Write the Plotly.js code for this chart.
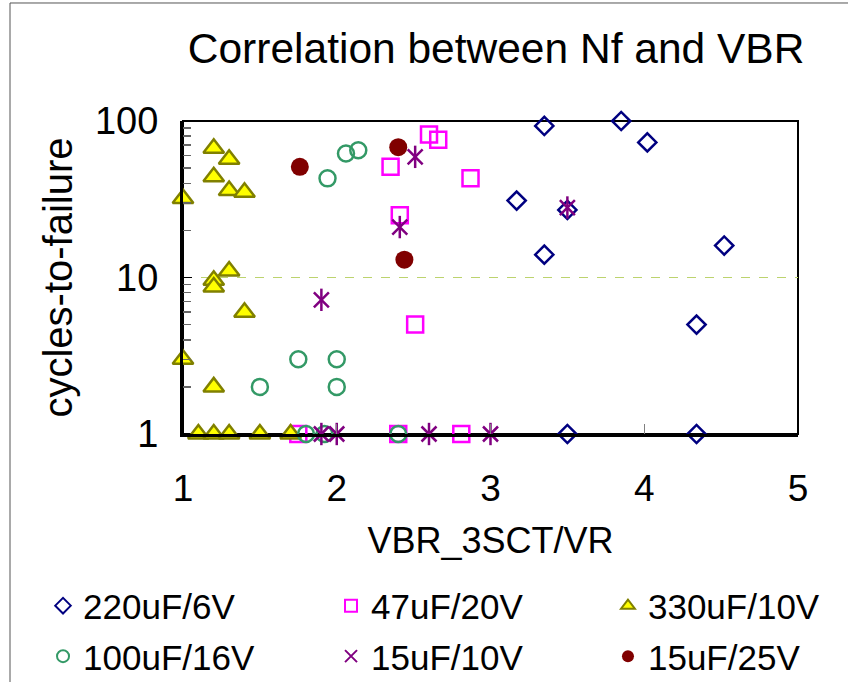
<!DOCTYPE html>
<html>
<head>
<meta charset="utf-8">
<script src="https://cdn.plot.ly/plotly-3.0.1.min.js"></script>
<style>html,body{margin:0;padding:0;background:#fff;}#chart{width:848px;height:682px;}</style>
</head>
<body>
<div id="chart"></div>
<script>
// Series names
var seriesNames = ["220uF/6V", "47uF/20V", "330uF/10V", "100uF/16V", "15uF/10V", "15uF/25V"];

// 220uF/6V
var x220 = [3.35, 3.85, 4.02, 3.17, 3.5, 3.35, 4.52, 4.34, 3.5, 4.34];
var y220 = [93, 100, 73, 31, 27, 14, 16, 5, 1, 1];
// 47uF/20V
var x47 = [2.6, 2.66, 2.35, 2.87, 2.41, 2.51, 1.75, 2.4, 2.81];
var y47 = [82, 76, 51, 43, 25, 5, 1, 1, 1];
// 330uF/10V
var x330 = [1.2, 1.3, 1.2, 1.3, 1.4, 1.0, 1.3, 1.2, 1.2, 1.4, 1.0, 1.2, 1.1, 1.2, 1.3, 1.5, 1.7];
var y330 = [67, 57, 44, 36, 35, 32, 11, 9.6, 8.7, 6, 3, 2, 1, 1, 1, 1, 1];
// 100uF/16V
var x100 = [1.94, 2.06, 2.14, 1.75, 2.0, 1.5, 2.0, 1.8, 1.92, 2.4];
var y100 = [43, 62, 65, 3, 3, 2, 2, 1, 1, 1];
// 15uF/10V
var x15a = [2.51, 2.41, 3.5, 1.9, 1.9, 2.0, 2.6, 3.0];
var y15a = [59, 21, 28, 7.2, 1, 1, 1, 1];
// 15uF/25V
var x15b = [1.76, 2.4, 2.44];
var y15b = [51, 68, 13];

var yTickVals = [1, 10, 100];
var yTickText = ["1", "10", "100"];
var xTickVals = [1, 2, 3, 4, 5];
var yMinorVals = [2, 3, 4, 5, 6, 7, 8, 9, 20, 30, 40, 50, 60, 70, 80, 90];

var FONT = "Liberation Sans, Arial, sans-serif";

var traces = [
  {x: x220, y: y220, name: seriesNames[0], legend: "legend", legendgroup: "a", type: "scatter", mode: "markers", cliponaxis: false,
   marker: {symbol: "diamond-open", size: 14, color: "#000080", line: {width: 2.5, color: "#000080"}}},
  {x: x47, y: y47, name: seriesNames[1], legend: "legend2", legendgroup: "b", type: "scatter", mode: "markers", cliponaxis: false,
   marker: {symbol: "square-open", size: 16, color: "#FF00FF", line: {width: 2.5, color: "#FF00FF"}}},
  {x: x330, y: y330, name: seriesNames[2], legend: "legend3", legendgroup: "c", type: "scatter", mode: "markers", cliponaxis: false,
   marker: {symbol: "triangle-up", size: 18, color: "#FFFF00", line: {width: 2.5, color: "#808000"}}},
  {x: x100, y: y100, name: seriesNames[3], legend: "legend", legendgroup: "d", type: "scatter", mode: "markers", cliponaxis: false,
   marker: {symbol: "circle-open", size: 16, color: "#339966", line: {width: 2.5, color: "#339966"}}},
  {x: x15a, y: y15a, name: seriesNames[4], legend: "legend2", legendgroup: "e", type: "scatter", mode: "markers", cliponaxis: false,
   marker: {symbol: "x-thin-open", size: 15, color: "#800080", line: {width: 2.5, color: "#800080"}}},
  {x: x15a, y: y15a, name: seriesNames[4], legend: "legend2", legendgroup: "e", showlegend: false, type: "scatter", mode: "markers", cliponaxis: false,
   marker: {symbol: "line-ns-open", size: 16, color: "#800080", line: {width: 2.5, color: "#800080"}}},
  {x: x15b, y: y15b, name: seriesNames[5], legend: "legend3", legendgroup: "f", type: "scatter", mode: "markers", cliponaxis: false,
   marker: {symbol: "circle", size: 18, color: "#800000", line: {width: 0}}}
];

function legendCfg(xp) {
  return {
    orientation: "v", x: xp, xanchor: "left", y: -0.455, yanchor: "top",
    font: {size: 35, family: FONT}, itemsizing: "constant",
    traceorder: "grouped", tracegroupgap: 2, itemclick: false,
    bgcolor: "rgba(0,0,0,0)", borderwidth: 0
  };
}

var layout = {
  width: 848, height: 682,
  margin: {l: 183, r: 50, t: 121, b: 248, autoexpand: false},
  paper_bgcolor: "#ffffff", plot_bgcolor: "#ffffff",
  font: {family: FONT, color: "#000000"},
  showlegend: true,
  title: {text: "Correlation between Nf and VBR", font: {size: 42.5, family: FONT, color: "#000"},
          x: 0.585, xanchor: "center", y: 0.93, yanchor: "middle"},
  xaxis: {
    type: "linear", range: [1, 5], tickmode: "array", tickvals: xTickVals,
    ticks: "inside", ticklen: 10, tickcolor: "#808080", tickwidth: 1,
    showline: true, linecolor: "#000", linewidth: 3, mirror: false,
    showgrid: false, zeroline: false,
    tickfont: {size: 37, family: FONT}, ticklabelstandoff: 20,
    title: {text: "VBR_3SCT/VR", font: {size: 36, family: FONT}, standoff: 20}
  },
  yaxis: {
    type: "log", range: [0, 2], tickmode: "array", tickvals: yTickVals, ticktext: yTickText,
    ticks: "inside", ticklen: 9, tickcolor: "#000", tickwidth: 1.5,
    minor: {tickmode: "array", tickvals: yMinorVals, ticks: "inside", ticklen: 8, tickcolor: "#666", tickwidth: 1.5, showgrid: false},
    showline: true, linecolor: "#000", linewidth: 3, mirror: false,
    showgrid: true, gridcolor: "#bcd36e", griddash: "dash", gridwidth: 1,
    zeroline: false,
    tickfont: {size: 38, family: FONT}, ticklabelstandoff: 14,
    title: {text: "cycles-to-failure", font: {size: 40, family: FONT}, standoff: 10}
  },
  legend: legendCfg(-0.2276),
  legend2: legendCfg(0.2407),
  legend3: legendCfg(0.691),
  shapes: [
    {type: "rect", xref: "paper", yref: "paper", x0: 0, x1: 1, y0: 0, y1: 1, line: {color: "#000", width: 2}, layer: "below"},
    {type: "line", xref: "paper", yref: "paper", x0: -0.2813, x1: 1.2, y0: 1.377, y1: 1.377, line: {color: "#555", width: 1}},
    {type: "line", xref: "paper", yref: "paper", x0: -0.2813, x1: -0.2813, y0: 1.377, y1: -1.0, line: {color: "#555", width: 1}}
  ]
};

Plotly.newPlot("chart", traces, layout, {displayModeBar: false, staticPlot: true});
</script>
</body>
</html>
